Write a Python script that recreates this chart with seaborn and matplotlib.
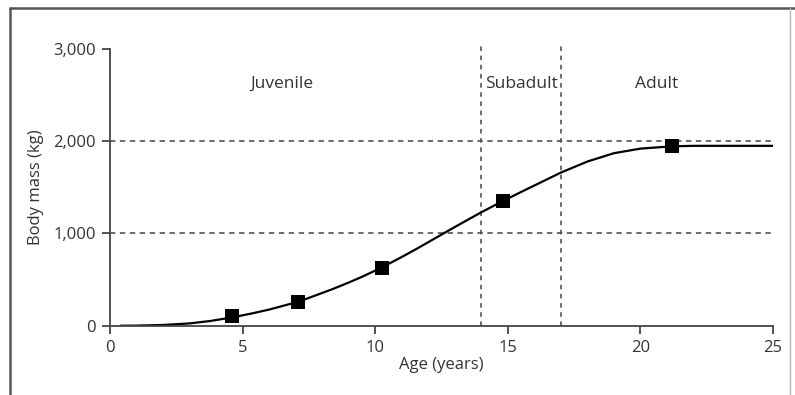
import matplotlib
matplotlib.use("Agg")
import matplotlib.pyplot as plt
import seaborn as sns
import pandas as pd
from matplotlib.lines import Line2D

# growth curve (age in years, body mass in kg)
curve_age = [0.4, 1, 2, 3, 3.8, 4.6, 5.3, 6, 7.1, 8, 8.4, 9, 9.5, 10.2, 11, 11.6,
             12.3, 13, 13.5, 14, 14.8, 15.5, 16, 16.5, 17, 18, 19, 20, 21.2, 22, 23, 24, 25]
curve_mass = [0, 1, 8, 25, 52, 90, 130, 175, 260, 355, 398, 468, 530, 625, 745, 840,
              955, 1070, 1150, 1230, 1350, 1450, 1520, 1590, 1660, 1780, 1870, 1920,
              1945, 1950, 1950, 1950, 1950]

# observed specimens
obs_age = [4.6, 7.1, 10.25, 14.8, 21.2]
obs_mass = [100, 260, 625, 1350, 1945]

stage_bounds = [14, 17]
ref_mass = [1000, 2000]
stage_names = ["Juvenile", "Subadult", "Adult"]
stage_label_x = [6.5, 15.5, 20.6]

x_ticks = [0, 5, 10, 15, 20, 25]
y_ticks = [0, 1000, 2000, 3000]
y_ticklabels = ["0", "1,000", "2,000", "3,000"]

sns.set_theme(style="ticks")
plt.rcParams["font.family"] = ["Open Sans", "DejaVu Sans"]

curve = pd.DataFrame({"age": curve_age, "mass": curve_mass})
obs = pd.DataFrame({"age": obs_age, "mass": obs_mass})

fig = plt.figure(figsize=(7.95, 3.95), dpi=100)
ax = fig.add_axes([0.1384, 0.1754, 0.834, 0.7006])

ink = "#333333"
for m in ref_mass:
    ax.plot([0, 25], [m, m], color="#444444", lw=1.1, dashes=(3.5, 3), zorder=1)
for b in stage_bounds:
    ax.plot([b, b], [0, 3040], color="#444444", lw=1.1, dashes=(3, 3),
            zorder=1, clip_on=False)

sns.lineplot(data=curve, x="age", y="mass", color="black", lw=1.6, ax=ax,
             zorder=2, sort=False)
sns.scatterplot(data=obs, x="age", y="mass", marker="s", s=95, color="black",
                edgecolor="black", linewidth=0, ax=ax, zorder=3)

for name, xx in zip(stage_names, stage_label_x):
    ax.text(xx, 2620, name, ha="center", va="center", fontsize=12.5, color=ink)

ax.set_xlim(0, 25)
ax.set_ylim(0, 3000)
ax.set_xticks(x_ticks)
ax.set_yticks(y_ticks)
ax.set_yticklabels(y_ticklabels)
ax.set_xlabel("Age (years)", fontsize=12, color=ink, labelpad=1)
ax.set_ylabel("Body mass (kg)", fontsize=12, color=ink, labelpad=7)
ax.tick_params(axis="both", direction="out", length=6, width=1.3, colors="#444444",
               labelsize=12, labelcolor=ink, pad=4)
sns.despine(ax=ax)
for s in ["left", "bottom"]:
    ax.spines[s].set_linewidth(1.3)
    ax.spines[s].set_color("#444444")
ax.set_facecolor("white")

# outer frame of the figure panel
fig.add_artist(Line2D([0.0126, 0.0126], [0, 0.979], color="#555555", lw=1.8,
                      transform=fig.transFigure))
fig.add_artist(Line2D([0.0126, 1.0], [0.979, 0.979], color="#555555", lw=1.8,
                      transform=fig.transFigure))
fig.add_artist(Line2D([0.9937, 0.9937], [0, 0.979], color="#bbbbbb", lw=1.0,
                      transform=fig.transFigure))

fig.savefig("out.png", dpi=100)
